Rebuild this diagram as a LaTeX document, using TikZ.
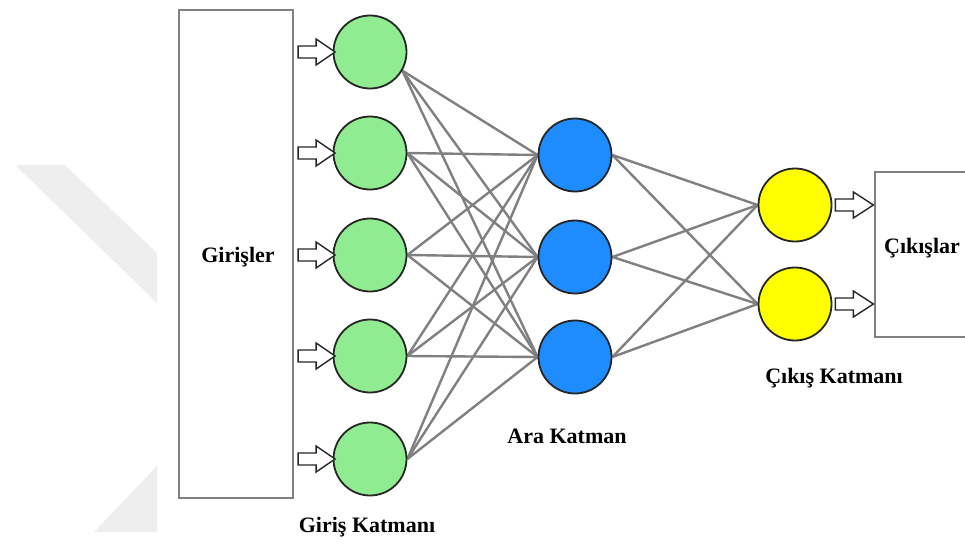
\documentclass[tikz,border=0pt]{standalone}
\usepackage{fontspec}
\setmainfont{Liberation Serif}
\usetikzlibrary{calc,backgrounds}

\definecolor{wiregray}{RGB}{128,128,128}
\definecolor{framegray}{RGB}{128,128,128}
\definecolor{inputgreen}{RGB}{144,236,144}
\definecolor{hiddenblue}{RGB}{30,140,255}
\definecolor{outyellow}{RGB}{255,255,0}
\definecolor{markgray}{RGB}{238,238,238}

\begin{document}
\begin{tikzpicture}[x=1pt,y=-1pt,
  neuron/.style={circle, draw=black!85, line width=1.8pt, minimum size=73pt, inner sep=0pt},
  innode/.style={neuron, fill=inputgreen},
  hidnode/.style={neuron, fill=hiddenblue},
  outnode/.style={neuron, fill=outyellow},
  wire/.style={draw=wiregray, line width=2.4pt},
  boxframe/.style={draw=framegray, line width=2.2pt, fill=white, inner sep=0pt},
  layertext/.style={font=\fontsize{22}{26}\selectfont\bfseries, inner sep=0pt},
  pics/hollowarrow/.style={code={
    \draw[black!85, line width=1.4pt, fill=white, line join=miter]
      (0,-6) -- (18,-6) -- (18,-13) -- (#1,0) -- (18,13) -- (18,6) -- (0,6) -- cycle;}}
]
\useasboundingbox (0,0) rectangle (965,543);
\clip (0,0) rectangle (965,543);

% input frame
\node[boxframe, minimum width=114pt, minimum height=488pt] (inputs) at (236,254) {};
\node[layertext] (inlabel) at (238,257) {Girişler};

% output frame (runs past the right edge)
\node[boxframe, minimum width=95pt, minimum height=165pt] (outputs) at (922.5,254.5) {};
\node[layertext] (outlabel) at (922,248) {Çıkışlar};

% neurons
\foreach \k/\y in {1/52,2/153,3/255,4/356,5/459}
  \node[innode] (i\k) at (370,\y) {};
\foreach \k/\y in {1/155,2/257,3/357}
  \node[hidnode] (h\k) at (575,\y) {};
\foreach \k/\y in {1/205,2/304}
  \node[outnode] (o\k) at (795,\y) {};

% layer captions
\node[layertext] (incap) at (367,527) {Giriş Katmanı};
\node[layertext] (hidcap) at (567,436) {Ara Katman};
\node[layertext] (outcap) at (834,378) {Çıkış Katmanı};

% block arrows into the input layer and out of the output layer
\foreach \k in {1,...,5}
  \pic at ($(inputs.east |- i\k)+(4,0)$) {hollowarrow=37};
\foreach \k in {1,2}
  \pic at ($(o\k.east)+(3,0)$) {hollowarrow=38};

\begin{scope}[on background layer]
  % faint background mark
  \fill[markgray] (15,165) -- (65,165) -- (157,253) -- (157,303) -- cycle;
  \fill[markgray] (157,466) -- (94,532) -- (157,532) -- cycle;
  % connections
  \coordinate (s1) at (i1.-30);
  \foreach \k in {2,...,5} \coordinate (s\k) at (i\k.east);
  \foreach \a in {1,...,5}
    \foreach \b in {1,2,3}
      \draw[wire] (s\a) -- (h\b.west);
  \foreach \a in {1,2,3}
    \foreach \b in {1,2}
      \draw[wire] (h\a.east) -- (o\b.west);
\end{scope}
\end{tikzpicture}
\end{document}
